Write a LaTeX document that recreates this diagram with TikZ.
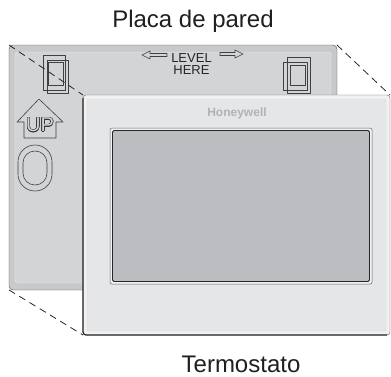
\documentclass[tikz,border=0pt]{standalone}
\usepackage{fontspec}
\setmainfont{Liberation Sans}
\usepackage{contour}
\contourlength{0.5pt}

\definecolor{plategray}{HTML}{C8C9CA}
\definecolor{panelgray}{HTML}{D3D4D5}
\definecolor{rimgray}{HTML}{F1F1F2}
\definecolor{facegray}{HTML}{E5E6E7}
\definecolor{screengray}{HTML}{BCBDC0}

\begin{document}
\begin{tikzpicture}[x=1pt,y=-1pt,line join=round,
    box/.style={inner sep=0pt,outer sep=0pt},
    mark line/.style={draw=black!75,line width=0.6pt},
    caption/.style={anchor=base,text=black!88,font=\fontsize{24}{28}\selectfont}]
      \useasboundingbox (0,0) rectangle (391,376);

      % wall plate
      \node[box,draw=black!70,fill=plategray,rounded corners=4pt,
        minimum width=328pt,minimum height=245pt] (plate) at (173,167.5) {};
      \node[box,draw=white!70!plategray,fill=panelgray,rounded corners=3pt,
        minimum width=316pt,minimum height=231pt] (panel) at (plate.center) {};

      % mounting slots
      \draw[mark line] (43,55) rectangle (65,90) (47,60) rectangle (68,93)
        (48,62) rectangle (63,85);
      \draw[mark line] (287,57) rectangle (310,93) (283,62) rectangle (307,90)
        (290,65) rectangle (305,85);

      % level marks
      \draw[mark line,fill=panelgray] (142,55) -- (150,51) -- (150,53.5) -- (167,53.5)
        -- (167,56.5) -- (150,56.5) -- (150,59) -- cycle;
      \draw[mark line,fill=panelgray] (243,54) -- (235,50) -- (235,52.5) -- (220,52.5)
        -- (220,55.5) -- (235,55.5) -- (235,58) -- cycle;
      \node[align=center,inner sep=0pt,font=\fontsize{13}{12.5}\selectfont,text=black!85]
        (level) at (191.5,64) {LEVEL\\HERE};

      % up arrow and oval
      \draw[mark line,fill=panelgray] (39,99) -- (63,122) -- (56,122) -- (56,138)
        -- (24,138) -- (24,122) -- (17,122) -- cycle;
      \node[font=\fontsize{20}{20}\selectfont] (up) at (40,125)
        {\contour{black!80}{\color{panelgray}UP}};
      \draw[mark line,rounded corners=16.9pt] (18,145) rectangle (52,191);
      \draw[mark line,rounded corners=11.9pt] (23,151) rectangle (47,185);

      % thermostat outline, drawn after the dashed edges
      \node[box,minimum width=307pt,minimum height=240pt] (thermo) at (236.5,215) {};
      \draw[dash pattern=on 7pt off 5pt,line width=0.8pt,black!85]
        (plate.north west) -- (thermo.north west)
        (plate.north east) -- (thermo.north east)
        (plate.south west) -- (thermo.south west);
      \draw[fill=rimgray,draw=black!60,rounded corners=3pt]
        (thermo.north west) rectangle (thermo.south east);
      \node[box,draw=black!15,fill=facegray,rounded corners=2pt,
        minimum width=299pt,minimum height=232pt] (face) at (thermo.center) {};
      \draw[black!85,line width=1.2pt,rounded corners=3pt]
        ([yshift=-3pt]thermo.north west) |- ([xshift=-3pt]thermo.south east);

      % screen
      \node[box,draw=black!60,fill=white!80!screengray,line width=0.5pt,rounded corners=2pt,
        minimum width=262pt,minimum height=156pt] (screen) at (241,206) {};
      \node[box,draw=black!85,fill=screengray,line width=0.9pt,rounded corners=1.5pt,
        minimum width=257pt,minimum height=151pt] (glass) at (screen.center) {};
      \node[font=\fontsize{12}{14}\selectfont\bfseries,text=black!30]
        (brand) at (237,113) {Honeywell};

      % captions
      \node[caption] (wallcap) at (193,27) {Placa de pared};
      \node[caption] (thermocap) at (241,372) {Termostato};
    \end{tikzpicture}
\end{document}
